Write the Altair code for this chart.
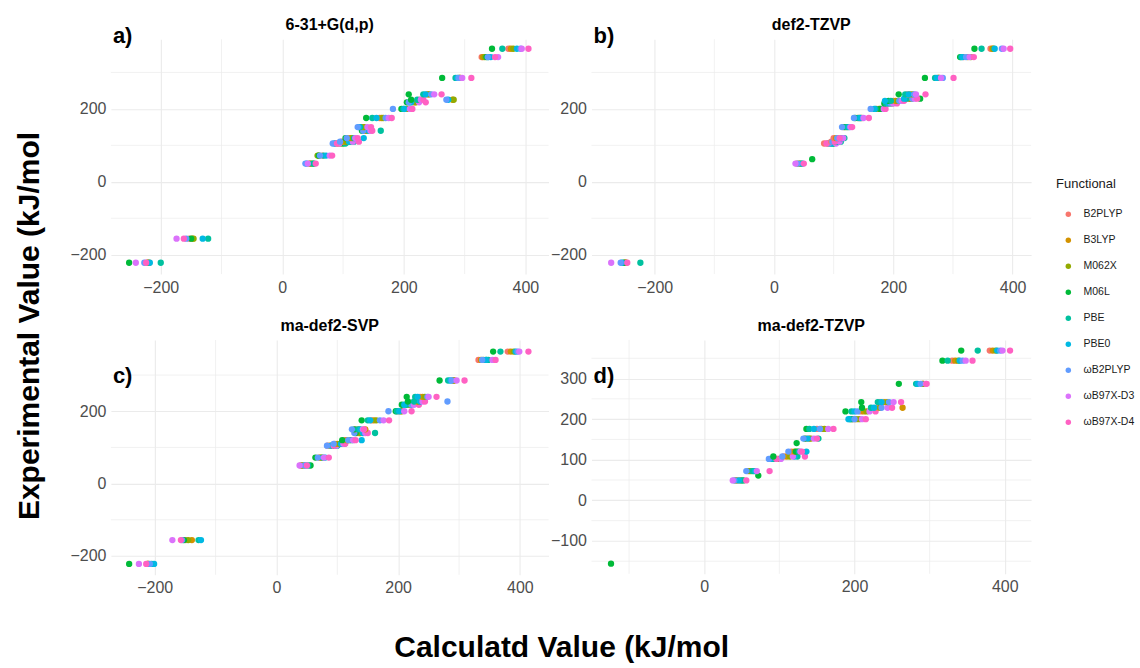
import altair as alt
import pandas as pd

# Functionals in legend order and their colours (ggplot hue palette)
FUNCTIONALS = ["B2PLYP", "B3LYP", "M062X", "M06L", "PBE", "PBE0",
               "ωB2PLYP", "ωB97X-D3", "ωB97X-D4"]
COLORS = ["#F8766D", "#D39200", "#93AA00", "#00BA38", "#00C19F",
          "#00B9E3", "#619CFF", "#DB72FB", "#FF61C3"]

# ---- 6-31+G(d,p): experimental value per compound, calculated value per functional
exp_631g = [-222, -156, 50, 72, 105, 110, 120, 140, 150, 175, 200, 218, 225, 240, 285, 342, 365]
calc_631g = [
    [-222, -219, -221, -252, -200, -218, -227, -241, -224],
    [-153, -148, -146, -150, -122, -131, -158, -174, -162],
    [44, 48, 46, 52, 50, 40, 38, 42, 55],
    [66, 60, 58, 60, 68, 72, 62, 78, 82],
    [88, 92, 96, 100, 104, 86, 83, 94, 90],
    [98, 102, 106, 112, 118, 110, 95, 116, 126],
    [108, 112, 115, 104, 118, 134, 106, 120, 124],
    [135, 138, 140, 131, 162, 142, 133, 145, 148],
    [130, 133, 135, 127, 128, 126, 124, 140, 146],
    [160, 163, 166, 138, 148, 155, 170, 175, 180],
    [204, 206, 208, 196, 199, 201, 182, 210, 214],
    [215, 218, 220, 205, 210, 212, 208, 225, 236],
    [226, 280, 282, 212, 222, 273, 270, 228, 232],
    [238, 240, 242, 208, 232, 236, 245, 250, 262],
    [292, 293, 291, 263, 285, 288, 290, 296, 311],
    [328, 330, 333, 336, 339, 343, 338, 355, 350],
    [372, 376, 380, 345, 362, 386, 392, 394, 405],
]

# ---- def2-TZVP
exp_tzvp = [-222, 50, 62, 105, 110, 120, 150, 175, 200, 215, 222, 228, 240, 285, 342, 365]
calc_tzvp = [
    [-250, -248, -249, -252, -224, -255, -257, -273, -246],
    [38, 42, 44, None, 46, 48, 40, 36, 50],
    [None, None, None, 64, None, None, None, None, None],
    [84, 90, 94, 100, 98, 96, 92, 104, 88],
    [96, 100, 104, 108, 112, 106, 98, 110, 102],
    [100, 104, 108, 114, 118, 112, 106, 116, 110],
    [116, 120, 124, 118, 122, 126, 114, 128, 131],
    [140, 144, 147, 136, 142, 145, 134, 150, 159],
    [172, 176, 180, 178, 170, 168, 162, 184, 187],
    [190, 194, 198, 185, 188, 192, 196, 200, 206],
    [200, 204, 208, 192, 196, 186, 210, 214, 218],
    [226, 230, 228, 245, 222, 218, 232, 236, 240],
    [224, 228, 232, 209, 220, 226, 235, 238, 254],
    [275, 276, 277, 253, 270, 273, 283, 280, 301],
    [318, 325, 330, 312, 314, 316, 322, 328, 335],
    [363, 366, 368, 336, 348, 370, 382, 385, 396],
]

# ---- ma-def2-SVP
exp_masvp = [-222, -156, 50, 72, 105, 110, 120, 140, 150, 175, 200, 218, 227, 240, 285, 342, 365]
calc_masvp = [
    [-210, -212, -211, -242, -205, -201, -208, -226, -214],
    [-149, -139, -145, -152, -128, -124, -155, -171, -157],
    [40, 44, 42, 56, 52, 48, 46, 38, 50],
    [70, 72, 74, 64, 76, 80, 68, 78, 86],
    [84, 88, 92, 96, 100, 90, 83, 98, 94],
    [96, 100, 104, 108, 112, 106, 94, 110, 113],
    [112, 116, 120, 108, 124, 140, 118, 126, 130],
    [132, 136, 138, 130, 162, 142, 128, 146, 150],
    [130, 146, 136, 128, 134, 138, 124, 142, 144],
    [156, 160, 164, 140, 150, 154, 170, 176, 185],
    [200, 204, 206, 196, 198, 202, 184, 210, 222],
    [212, 216, 220, 206, 214, 210, 222, 226, 234],
    [230, 232, 234, 216, 226, 236, 281, 240, 244],
    [236, 240, 244, 214, 228, 232, 248, 250, 263],
    [290, 292, 291, 268, 282, 286, 288, 296, 309],
    [332, 336, 340, 345, 348, 344, 338, 355, 360],
    [380, 385, 390, 356, 368, 393, 396, 399, 414],
]

# ---- ma-def2-TZVP
exp_matzvp = [-156, 49, 61, 72, 102, 108, 120, 141, 152, 176, 200, 219, 228, 242, 287, 344, 369]
calc_matzvp = [
    [None, None, None, -124, None, None, None, None, None],
    [44, 48, 42, 52, 50, 46, 40, 38, 56],
    [None, None, None, 72, None, None, None, None, None],
    [58, 62, 60, 66, 64, 68, 56, 70, 87],
    [95, 98, 100, 90, 92, 88, 86, 102, 96],
    [106, 110, 114, 92, 124, 120, 104, 118, 134],
    [116, 120, 124, 122, 126, 136, 112, 128, 130],
    [None, None, None, 123, None, None, None, None, None],
    [136, 140, 142, 134, 152, 138, 132, 146, 150],
    [150, 156, 160, 136, 140, 146, 154, 165, 172],
    [198, 202, 206, 196, 194, 192, 200, 210, 215],
    [208, 212, 216, 188, 196, 200, 204, 220, 228],
    [230, 264, 234, 210, 222, 226, 236, 244, 250],
    [234, 240, 244, 209, 231, 236, 246, 252, 262],
    [290, 292, 291, 259, 282, 284, 288, 295, 296],
    [330, 334, 338, 317, 324, 340, 344, 348, 357],
    [380, 384, 388, 342, 364, 390, 394, 397, 407],
]

GRID = "#EBEBEB"
FONT = "Liberation Sans"


def to_frame(exp, calc):
    rows = []
    for e, row in zip(exp, calc):
        for f, c in zip(FUNCTIONALS, row):
            if c is not None:
                rows.append({"Functional": f, "exp": e, "calc": c})
    return pd.DataFrame(rows)


def panel(exp, calc, title, tag, xdom, ydom, xticks, yticks, xminor, yminor,
          width, height, title_offset, tag_y):
    xs = alt.Scale(domain=xdom, nice=False, zero=False)
    ys = alt.Scale(domain=ydom, nice=False, zero=False)
    xa = alt.Axis(values=xticks, title=None, format="d")
    ya = alt.Axis(values=yticks, title=None, format="d")
    # minor grid lines between the labelled breaks
    vminor = alt.Chart(pd.DataFrame({"v": xminor})).mark_rule(
        color=GRID, strokeWidth=0.7).encode(x=alt.X("v:Q", scale=xs, axis=xa))
    hminor = alt.Chart(pd.DataFrame({"v": yminor})).mark_rule(
        color=GRID, strokeWidth=0.7).encode(y=alt.Y("v:Q", scale=ys, axis=ya))
    points = alt.Chart(to_frame(exp, calc)).mark_circle(size=40, opacity=1).encode(
        x=alt.X("calc:Q", scale=xs, axis=xa),
        y=alt.Y("exp:Q", scale=ys, axis=ya),
        color=alt.Color("Functional:N",
                        scale=alt.Scale(domain=FUNCTIONALS, range=COLORS),
                        legend=alt.Legend(title="Functional", orient="none",
                                          legendX=946, legendY=139)),
    )
    label = alt.Chart(pd.DataFrame({"t": [tag]})).mark_text(
        font=FONT, fontSize=22, fontWeight="bold", align="left",
        baseline="middle", color="black").encode(
        x=alt.value(2), y=alt.value(tag_y), text="t:N")
    return alt.layer(vminor, hminor, points, label).properties(
        width=width, height=height,
        title=alt.TitleParams(title, fontSize=16, font=FONT, fontWeight="bold",
                              color="black", offset=title_offset, anchor="middle"))


pa = panel(exp_631g, calc_631g, "6-31+G(d,p)", "a)", [-282, 438], [-253, 391],
           [-200, 0, 200, 400], [-200, 0, 200], [-100, 100, 300], [-100, 100, 300],
           438, 235, -8, -3)
pb = panel(exp_tzvp, calc_tzvp, "def2-TZVP", "b)", [-306, 431], [-253, 391],
           [-200, 0, 200, 400], [-200, 0, 200], [-100, 100, 300], [-100, 100, 300],
           440, 235, -8, -3)
pc = panel(exp_masvp, calc_masvp, "ma-def2-SVP", "c)", [-272, 447], [-252, 397],
           [-200, 0, 200, 400], [-200, 0, 200], [-100, 100, 300], [-100, 100, 300],
           438, 235, 6, 36)
pd_ = panel(exp_matzvp, calc_matzvp, "ma-def2-TZVP", "d)", [-150, 435], [-181, 395],
            [0, 200, 400], [-100, 0, 100, 200, 300], [-100, 100, 300],
            [-150, -50, 50, 150, 250, 350], 440, 234, 6, 36)

grid = alt.concat(pa, pb, pc, pd_, columns=2, spacing={"row": 22, "column": 0})

inner = alt.vconcat(grid, title=alt.TitleParams(
    "Calculatd Value (kJ/mol", orient="bottom", anchor="middle", fontSize=30,
    font=FONT, fontWeight="bold", color="black", offset=37, dx=11))

chart = alt.hconcat(inner, title=alt.TitleParams(
    "Experimental Value (kJ/mol", orient="left", anchor="middle", fontSize=30,
    font=FONT, fontWeight="bold", color="black", offset=25, dx=14)).configure(
    padding={"left": 14, "top": 17, "right": 5, "bottom": 0},
    background="white").configure_view(stroke=None).configure_axis(
    domain=False, ticks=False, grid=True, gridColor=GRID, gridWidth=1.1,
    labelColor="#4D4D4D", labelFont=FONT, labelFontSize=16, labelPadding=5,
).configure_legend(
    titleFont=FONT, titleFontSize=13, titleFontWeight="normal", titleColor="#1A1A1A",
    labelFont=FONT, labelFontSize=10.5, labelColor="#1A1A1A", symbolSize=30,
    symbolType="circle", rowPadding=15, titlePadding=18, labelOffset=10,
    symbolOffset=7,
).configure_concat(spacing=0)

chart.save("out.html", embed_options={"renderer": "svg", "actions": False})
